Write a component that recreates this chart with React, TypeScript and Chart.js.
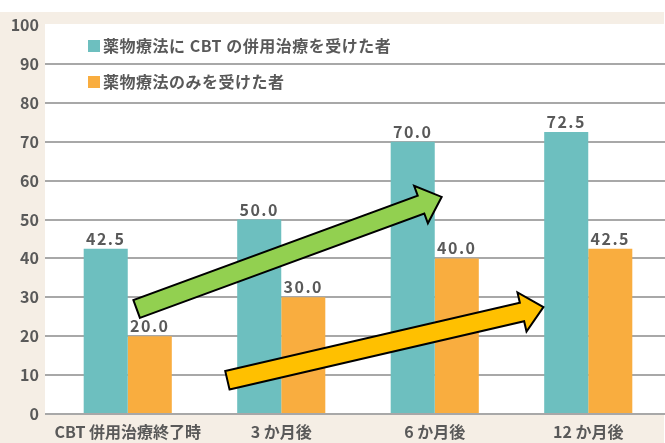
import React, { useEffect, useRef } from "react";
import { Chart, registerables } from "chart.js";

Chart.register(...registerables);

const categories = ["CBT 併用治療終了時", "3 か月後", "6 か月後", "12 か月後"];
const seriesNames = ["薬物療法に CBT の併用治療を受けた者", "薬物療法のみを受けた者"];
const cbtValues = [42.5, 50.0, 70.0, 72.5];
const drugOnlyValues = [20.0, 30.0, 40.0, 42.5];
const yTicks = [0, 10, 20, 30, 40, 50, 60, 70, 80, 90, 100];
// arrows in data space: [xIndexFrom, yFrom, xIndexTo, yTo]
const greenArrow = [0.058, 27.0, 2.045, 55.8];
const yellowArrow = [0.649, 8.7, 2.708, 27.5];

const TEAL = "#6dbfbf";
const ORANGE = "#f9ad3f";
const TEXT = "#595959";
const FONT = "'Noto Sans CJK JP', 'Noto Sans', sans-serif";

function drawArrow(ctx: CanvasRenderingContext2D, x0: number, y0: number, x1: number, y1: number, fill: string) {
  const dx = x1 - x0, dy = y1 - y0;
  const len = Math.hypot(dx, dy);
  const ux = dx / len, uy = dy / len;
  const px = -uy, py = ux;
  const sw = 9.5, hw = 20, hl = 22;
  const bx = x1 - ux * hl, by = y1 - uy * hl;
  const pts = [
    [x0 + px * sw, y0 + py * sw],
    [bx + px * sw, by + py * sw],
    [bx + px * hw, by + py * hw],
    [x1, y1],
    [bx - px * hw, by - py * hw],
    [bx - px * sw, by - py * sw],
    [x0 - px * sw, y0 - py * sw],
  ];
  ctx.save();
  ctx.beginPath();
  ctx.moveTo(pts[0][0], pts[0][1]);
  for (let i = 1; i < pts.length; i++) ctx.lineTo(pts[i][0], pts[i][1]);
  ctx.closePath();
  ctx.fillStyle = fill;
  ctx.fill();
  ctx.lineWidth = 2;
  ctx.strokeStyle = "#000";
  ctx.lineJoin = "miter";
  ctx.stroke();
  ctx.restore();
}

const bgPlugin = {
  id: "bgPlugin",
  beforeDraw(chart: any) {
    const { ctx, chartArea } = chart;
    ctx.save();
    ctx.fillStyle = "#f5eee5";
    ctx.fillRect(0, 12, chart.width - 1, chart.height - 12);
    ctx.fillStyle = "#ffffff";
    ctx.fillRect(chartArea.left - 6, chartArea.top - 1, chart.width - chartArea.left + 6, chartArea.bottom - chartArea.top + 1);
    ctx.restore();
  },
};

const labelPlugin = {
  id: "labelPlugin",
  afterDatasetsDraw(chart: any) {
    const { ctx } = chart;
    ctx.save();
    ctx.font = `bold 16px ${FONT}`;
    (ctx as any).letterSpacing = "1.5px";
    ctx.fillStyle = TEXT;
    ctx.textAlign = "center";
    ctx.textBaseline = "bottom";
    chart.data.datasets.forEach((ds: any, di: number) => {
      const meta = chart.getDatasetMeta(di);
      meta.data.forEach((bar: any, i: number) => {
        ctx.fillText(Number(ds.data[i]).toFixed(1), bar.x, bar.y - 2);
      });
    });
    (ctx as any).letterSpacing = "0px";
    const xs = chart.scales.x, ys = chart.scales.y;
    const arrows = [
      [greenArrow, "#92d050"],
      [yellowArrow, "#ffc000"],
    ] as const;
    arrows.forEach(([a, c]) => {
      drawArrow(
        ctx,
        xs.getPixelForValue(a[0]),
        ys.getPixelForValue(a[1]),
        xs.getPixelForValue(a[2]),
        ys.getPixelForValue(a[3]),
        c
      );
    });
    // legend
    const colors = [TEAL, ORANGE];
    const lx = chart.chartArea.left + 37;
    const lys = [chart.chartArea.top + 21, chart.chartArea.top + 57];
    ctx.font = `bold 16px ${FONT}`;
    (ctx as any).letterSpacing = "0.5px";
    ctx.textAlign = "left";
    ctx.textBaseline = "middle";
    seriesNames.forEach((n, i) => {
      ctx.fillStyle = colors[i];
      ctx.fillRect(lx, lys[i] - 6, 12, 12);
      ctx.fillStyle = TEXT;
      ctx.fillText(n, lx + 15, lys[i]);
    });
    ctx.restore();
  },
};

export default function App() {
  const ref = useRef<HTMLCanvasElement>(null);
  useEffect(() => {
    document.body.style.margin = "0";
    const chart = new Chart(ref.current!, {
      type: "bar",
      data: {
        labels: categories,
        datasets: [
          { label: seriesNames[0], data: cbtValues, backgroundColor: TEAL, categoryPercentage: 0.574, barPercentage: 1 },
          { label: seriesNames[1], data: drugOnlyValues, backgroundColor: ORANGE, categoryPercentage: 0.574, barPercentage: 1 },
        ],
      },
      options: {
        animation: false,
        responsive: false,
        devicePixelRatio: 1,
        layout: { padding: { top: 25, right: 0, left: 0, bottom: 0 } },
        plugins: { legend: { display: false }, tooltip: { enabled: false } },
        scales: {
          x: {
            grid: { display: false },
            border: { display: false },
            ticks: { color: TEXT, font: { family: FONT, size: 16, weight: "bold" }, padding: 0, maxRotation: 0 },
            afterFit: (s: any) => { s.height = 29; },
          },
          y: {
            min: 0,
            max: 100,
            afterBuildTicks: (s: any) => { s.ticks = yTicks.map((v) => ({ value: v })); },
            border: { display: false },
            grid: {
              color: (c: any) => (c.tick && c.tick.value === 100 ? "rgba(0,0,0,0)" : "#a8a8a8"),
              lineWidth: 2,
              tickLength: 6,
              drawTicks: true,
            },
            ticks: { color: TEXT, font: { family: FONT, size: 16, weight: "bold" }, padding: 6 },
            afterFit: (s: any) => { s.width = 51; },
          },
        },
      },
      plugins: [bgPlugin, labelPlugin],
    });
    return () => chart.destroy();
  }, []);
  return (
    <div style={{ width: 665, height: 443, background: "#fff" }}>
      <canvas ref={ref} width={665} height={443} style={{ display: "block" }} />
    </div>
  );
}
